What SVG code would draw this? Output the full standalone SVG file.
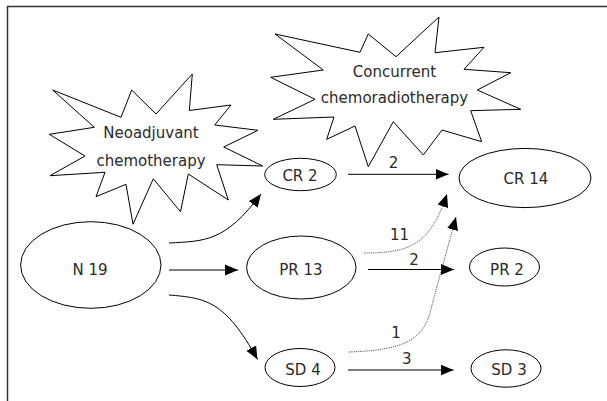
<svg xmlns="http://www.w3.org/2000/svg" width="607" height="401" viewBox="0 0 607 401">
<style>
  .shape { fill: #ffffff; stroke: #000000; stroke-width: 1; }
  .lbl { font-family: "DejaVu Sans", "Liberation Sans", sans-serif; font-size: 15px; fill: #2a2a2a; text-anchor: middle; }
  .edge { fill: none; stroke: #000000; stroke-width: 1; }
  .dot { fill: none; stroke: #444444; stroke-width: 0.9; stroke-dasharray: 1.2 1; }
</style>
<defs>
  <marker id="ah" markerUnits="userSpaceOnUse" markerWidth="14" markerHeight="12" refX="13" refY="6" orient="auto">
    <path d="M0,0.5 L13,6 L0,11.5 Z" fill="#000000" stroke="none"/>
  </marker>
</defs>
<rect x="0" y="0" width="607" height="401" fill="#ffffff"/>
<path d="M7.5,401 V6.5 H607" fill="none" stroke="#333333" stroke-width="1.5"/>

<g id="star-neoadjuvant">
  <polygon class="shape" points="52.7,90 121,117.3 131.7,90 156,114 192.3,74 189.3,110.5 231,105 214.7,125 258,130.3 223.7,147 262.7,166 216.7,164.7 228.3,200 188.3,174 180.5,211.7 153.3,178.8 133,224.2 126,184.3 96,196.7 105,172.3 50,175.7 85,156 49.3,134.3 94.3,127.3"/>
  <text class="lbl" x="151" y="138.3">Neoadjuvant</text>
  <text class="lbl" x="151" y="165.7">chemotherapy</text>
</g>

<g id="star-concurrent">
  <polygon class="shape" points="275,34 360,52.3 368.3,34 396,56.7 439,17 435,52.7 484,47.3 464,69.3 510.7,72.7 477.3,90 520.7,109.3 470.7,110.7 481.7,141.7 442,130 423.3,155 393.3,121.7 368.3,166.7 355,126 326.7,139.3 334,117 273.3,119.3 315,99.3 270.7,77.3 323.3,70"/>
  <text class="lbl" x="394.5" y="76.5">Concurrent</text>
  <text class="lbl" x="394.5" y="102.7">chemoradiotherapy</text>
</g>

<g id="node-n19">
  <ellipse class="shape" cx="90.8" cy="265" rx="70.2" ry="43.3"/>
  <text class="lbl" x="90" y="275">N 19</text>
</g>
<g id="node-cr2">
  <ellipse class="shape" cx="300.5" cy="174.5" rx="35.8" ry="16.2"/>
  <text class="lbl" x="300" y="180.7">CR 2</text>
</g>
<g id="node-pr13">
  <ellipse class="shape" cx="301.3" cy="267.5" rx="54.7" ry="31.5"/>
  <text class="lbl" x="301" y="275">PR 13</text>
</g>
<g id="node-sd4">
  <ellipse class="shape" cx="300" cy="367.5" rx="35" ry="19"/>
  <text class="lbl" x="303" y="375">SD 4</text>
</g>
<g id="node-cr14">
  <ellipse class="shape" cx="525" cy="178" rx="66" ry="29.6"/>
  <text class="lbl" x="526" y="184">CR 14</text>
</g>
<g id="node-pr2">
  <ellipse class="shape" cx="504.5" cy="267" rx="35" ry="19"/>
  <text class="lbl" x="507" y="275">PR 2</text>
</g>
<g id="node-sd3">
  <ellipse class="shape" cx="506" cy="368.5" rx="35" ry="18.7"/>
  <text class="lbl" x="509" y="375">SD 3</text>
</g>

<g id="connectors">
  <path class="edge" d="M169,243 C205,241 225,242 261,194" marker-end="url(#ah)"/>
  <path class="edge" d="M169,270 L238,270" marker-end="url(#ah)"/>
  <path class="edge" d="M169,295 C205,298 225,300 257.5,359.5" marker-end="url(#ah)"/>
  <path class="edge" d="M348,174.3 L448.5,174.3" marker-end="url(#ah)"/>
  <path class="edge" d="M368,269.5 L454,269.5" marker-end="url(#ah)"/>
  <path class="edge" d="M348,370 L453.5,370" marker-end="url(#ah)"/>
  <path class="dot" d="M364,253 C410,253 430,245 447,194" marker-end="url(#ah)"/>
  <path class="dot" d="M349,352 C405,350 425,340 432,305 L456,217" marker-end="url(#ah)"/>
  <text class="lbl" x="393.5" y="168.3">2</text>
  <text class="lbl" x="399.5" y="240">11</text>
  <text class="lbl" x="414" y="265">2</text>
  <text class="lbl" x="396" y="338.3">1</text>
  <text class="lbl" x="406.7" y="364">3</text>
</g>
</svg>
